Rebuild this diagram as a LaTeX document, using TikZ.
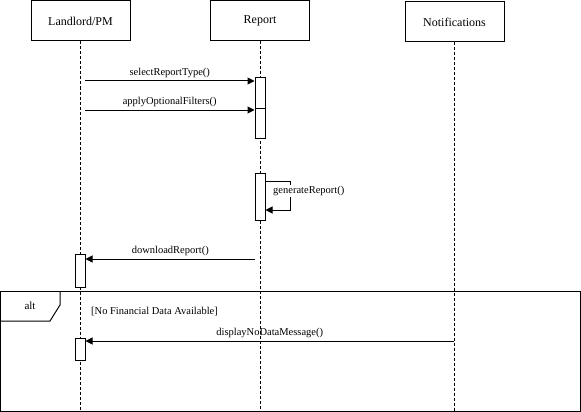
\documentclass[tikz,border=0pt]{standalone}
\usepackage{fontspec}
\setmainfont{Liberation Serif}
\usetikzlibrary{arrows.meta}
\begin{document}
\begin{tikzpicture}[x=1pt,y=-1pt,
  actor/.style={draw,line width=1pt,fill=white,minimum width=99pt,minimum height=40pt,inner sep=0pt,font=\fontsize{12}{14}\selectfont},
  lifeline/.style={line width=0.9pt,dash pattern=on 3pt off 2pt},
  activation/.style={draw,line width=1pt,fill=white,minimum width=10pt,inner sep=0pt},
  msg/.style={line width=1pt,-{Triangle[length=7pt,width=7pt]}},
  lbl/.style={font=\fontsize{10.5}{12}\selectfont,inner sep=1pt},
  frame/.style={draw,line width=1pt}]
\useasboundingbox (0,0) rectangle (581,412);

% participants
\node[actor] (L) at (80.5,21) {Landlord/PM};
\node[actor] (R) at (260,20.5) {Report};
\node[actor] (N) at (454.5,22) {Notifications};

% lifelines
\coordinate (Lend) at (80,411);
\coordinate (Rend) at (260,411);
\coordinate (Nend) at (454,411);
\draw[lifeline] (L.south -| Lend) -- (Lend);
\draw[lifeline] (R.south -| Rend) -- (Rend);
\draw[lifeline] (N.south -| Nend) -- (Nend);

% combined fragment
\draw[frame] (0,291) rectangle (580,411);
\draw[frame] (0,321) -- (50,321) -- (60,305) -- (60,291);
\node[font=\fontsize{11}{13}\selectfont] (alt) at (30,306) {alt};
\node[lbl,anchor=west] (guard) at (90,312) {[No Financial Data Available]};

% activations
\node[activation,minimum height=30pt] (a1) at (260,93) {};
\node[activation,minimum height=30pt] (a2) at (260,123) {};
\node[activation,minimum height=47pt] (a3) at (260,196.5) {};
\node[activation,minimum height=33pt] (a4) at (80,270.5) {};
\node[activation,minimum height=22pt] (a5) at (80,349) {};

% messages
\coordinate (m1) at (85,81);
\draw[msg] (m1) -- (a1.west |- m1) node[lbl,midway,above=2pt] {selectReportType()};
\coordinate (m2) at (85,110);
\draw[msg] (m2) -- (a2.west |- m2) node[lbl,midway,above=2pt] {applyOptionalFilters()};

\coordinate (s1) at (290,181);
\coordinate (s2) at (290,210);
\draw[msg] (a3.east |- s1) -- (s1) -- (s2) -- (a3.east |- s2);
\node[lbl,anchor=west,fill=white] (selfl) at (272,191) {generateReport()};

\coordinate (m3) at (255,259);
\draw[msg] (m3) -- (a4.east |- m3) node[lbl,midway,above=2pt] {downloadReport()};
\coordinate (m4) at (454,341);
\draw[msg] (m4) -- (a5.east |- m4) node[lbl,midway,above=2pt] {displayNoDataMessage()};
\end{tikzpicture}
\end{document}
